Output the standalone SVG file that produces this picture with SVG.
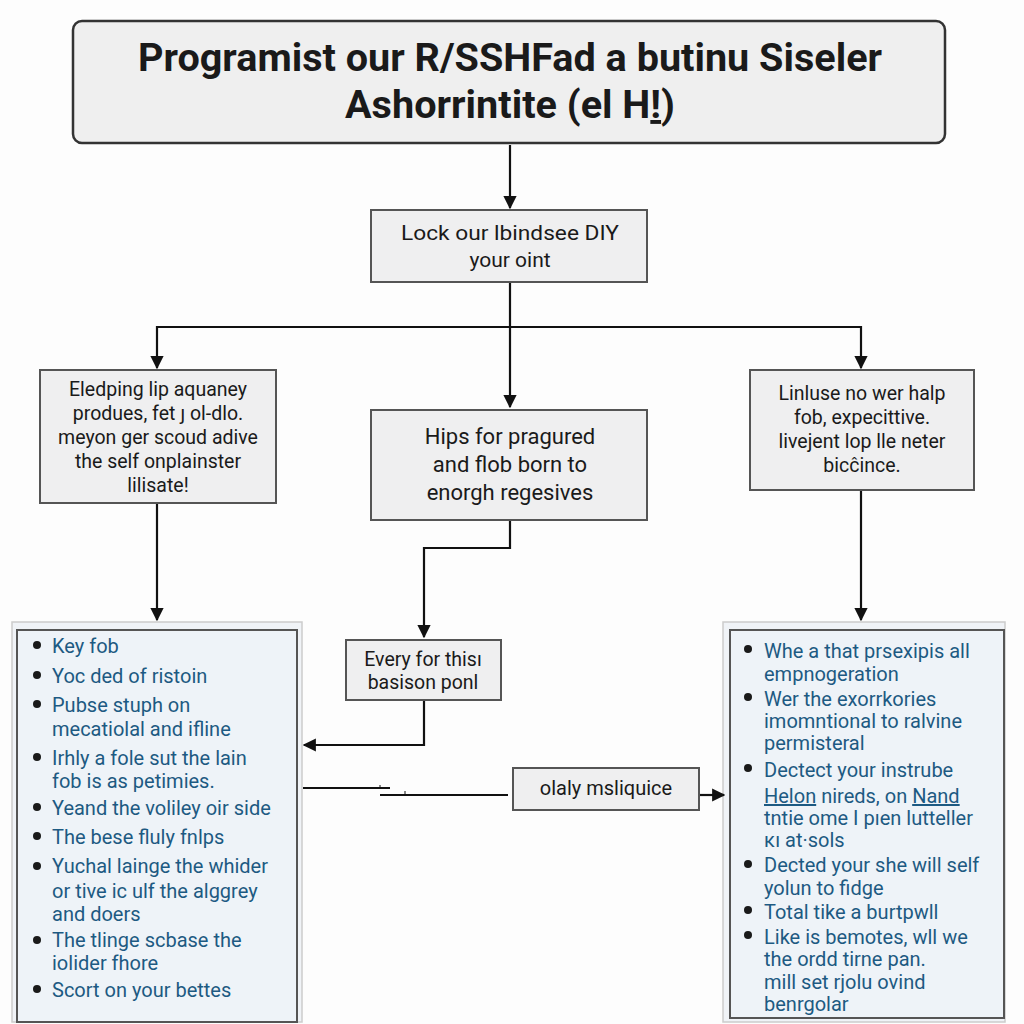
<svg xmlns="http://www.w3.org/2000/svg" width="1024" height="1024" viewBox="0 0 1024 1024">
<defs>
<marker id="ah" viewBox="0 0 10 10" refX="9" refY="5" markerWidth="6" markerHeight="6" orient="auto"><path d="M0,0 L10,5 L0,10 z" fill="#111"/></marker>
<style>
.box{fill:#efeff0;stroke:#555;stroke-width:2}
.t{font-family:Roboto,"Liberation Sans",Arial,sans-serif;fill:#1a1a1a;text-anchor:middle}
.l{font-family:Roboto,"Liberation Sans",Arial,sans-serif;fill:#1d5a82;font-size:20px}
.c{fill:none;stroke:#111;stroke-width:2.2}
.b{fill:#1a1a1a}
</style>
</defs>
<rect width="1024" height="1024" fill="#fdfdfd"/>
<g id="title">
<rect x="73" y="21" width="872" height="122" rx="9" fill="#efefef" stroke="#333" stroke-width="2.5"/>
<text class="t" x="510" y="71" font-size="39" font-weight="bold" textLength="744" lengthAdjust="spacingAndGlyphs">Programist our R/SSHFad a butinu Siseler</text>
<text class="t" x="510" y="118" font-size="39" font-weight="bold" textLength="330" lengthAdjust="spacingAndGlyphs">Ashorrintite (el H<tspan text-decoration="underline">!</tspan>)</text>
</g>
<g id="n1">
<rect class="box" x="371" y="210" width="276" height="72"/>
<text class="t" x="510" y="240" font-size="21" textLength="218" lengthAdjust="spacingAndGlyphs">Lock our lbindsee DIY</text>
<text class="t" x="510" y="267" font-size="21">your oint</text>
</g>
<g id="n2">
<rect class="box" x="40" y="370" width="236" height="133"/>
<text class="t" x="158" y="396" font-size="19.5">Eledping lip aquaney</text>
<text class="t" x="158" y="420" font-size="19.5">produes, fet ȷ ol-dlo.</text>
<text class="t" x="158" y="444" font-size="19.5">meyon ger scoud adive</text>
<text class="t" x="158" y="468" font-size="19.5">the self onplainster</text>
<text class="t" x="158" y="492" font-size="19.5">lilisate!</text>
</g>
<g id="n3">
<rect class="box" x="371" y="410" width="276" height="110"/>
<text class="t" x="510" y="444" font-size="22">Hips for pragured</text>
<text class="t" x="510" y="472" font-size="22">and flob born to</text>
<text class="t" x="510" y="500" font-size="22">enorgh regesives</text>
</g>
<g id="n4">
<rect class="box" x="750" y="370" width="224" height="120"/>
<text class="t" x="862" y="400" font-size="19.5">Linluse no wer halp</text>
<text class="t" x="862" y="424" font-size="19.5">fob, expecittive.</text>
<text class="t" x="862" y="448" font-size="19.5">livejent lop lle neter</text>
<text class="t" x="862" y="472" font-size="19.5">bicĉince.</text>
</g>
<g id="n5">
<rect class="box" x="346" y="640" width="155" height="60"/>
<text class="t" x="423" y="666" font-size="19.5">Every for thisı</text>
<text class="t" x="423" y="689" font-size="19.5">basison ponl</text>
</g>
<g id="n6">
<rect class="box" x="513" y="768" width="186" height="42"/>
<text class="t" x="606" y="795" font-size="20">olaly msliquice</text>
</g>
<g id="list-left">
<rect x="12" y="622" width="290" height="400" fill="#f0f3f7" stroke="#ccc" stroke-width="1.5"/>
<rect x="17" y="630" width="280" height="392" fill="#eef3f8" stroke="#555" stroke-width="2"/>
<g class="b">
<circle cx="37" cy="645" r="4"/><circle cx="37" cy="675" r="4"/><circle cx="37" cy="704" r="4"/><circle cx="37" cy="757" r="4"/><circle cx="37" cy="807" r="4"/><circle cx="37" cy="836" r="4"/><circle cx="37" cy="866" r="4"/><circle cx="37" cy="940" r="4"/><circle cx="37" cy="989" r="4"/>
</g>
<text class="l" x="52" y="653">Key fob</text>
<text class="l" x="52" y="683">Yoc ded of ristoin</text>
<text class="l" x="52" y="712">Pubse stuph on</text>
<text class="l" x="52" y="736">mecatiolal and ifline</text>
<text class="l" x="52" y="765">Irhly a fole sut the lain</text>
<text class="l" x="52" y="788">fob is as petimies.</text>
<text class="l" x="52" y="815">Yeand the voliley oir side</text>
<text class="l" x="52" y="844">The bese fluly fnlps</text>
<text class="l" x="52" y="873">Yuchal lainge the whider</text>
<text class="l" x="52" y="898">or tive ic ulf the alggrey</text>
<text class="l" x="52" y="921">and doers</text>
<text class="l" x="52" y="947">The tlinge scbase the</text>
<text class="l" x="52" y="970">iolider fhore</text>
<text class="l" x="52" y="997">Scort on your bettes</text>
</g>
<g id="list-right">
<rect x="723" y="622" width="282" height="400" fill="#f0f3f7" stroke="#ccc" stroke-width="1.5"/>
<rect x="730" y="630" width="274" height="388" fill="#eef3f8" stroke="#555" stroke-width="2"/>
<g class="b">
<circle cx="748" cy="649" r="4"/><circle cx="748" cy="697" r="4"/><circle cx="748" cy="768" r="4"/><circle cx="748" cy="864" r="4"/><circle cx="748" cy="910" r="4"/><circle cx="748" cy="935" r="4"/>
</g>
<text class="l" x="764" y="658">Whe a that prsexipis all</text>
<text class="l" x="764" y="681">empnogeration</text>
<text class="l" x="764" y="706">Wer the exorrkories</text>
<text class="l" x="764" y="728">imomntional to ralvine</text>
<text class="l" x="764" y="750">permisteral</text>
<text class="l" x="764" y="777">Dectect your instrube</text>
<text class="l" x="764" y="803"><tspan text-decoration="underline">Helon</tspan> nireds, on <tspan text-decoration="underline">Nand</tspan></text>
<text class="l" x="764" y="825">tntie ome I pıen lutteller</text>
<text class="l" x="764" y="847">ĸı at·sols</text>
<text class="l" x="764" y="872">Dected your she will self</text>
<text class="l" x="764" y="895">yolun to fidge</text>
<text class="l" x="764" y="919">Total tike a burtpwll</text>
<text class="l" x="764" y="944">Like is bemotes, wll we</text>
<text class="l" x="764" y="966">the ordd tirne pan.</text>
<text class="l" x="764" y="989">mill set rjolu ovind</text>
<text class="l" x="764" y="1011">benrgolar</text>
</g>
<g id="connectors">
<line class="c" x1="510" y1="145" x2="510" y2="208" marker-end="url(#ah)"/>
<line class="c" x1="510" y1="283" x2="510" y2="407" marker-end="url(#ah)"/>
<line class="c" x1="157" y1="327" x2="861" y2="327"/>
<line class="c" x1="157" y1="326" x2="157" y2="368" marker-end="url(#ah)"/>
<line class="c" x1="861" y1="326" x2="861" y2="368" marker-end="url(#ah)"/>
<line class="c" x1="157" y1="504" x2="157" y2="620" marker-end="url(#ah)"/>
<line class="c" x1="861" y1="491" x2="861" y2="620" marker-end="url(#ah)"/>
<polyline class="c" points="510,521 510,548 424,548 424,637" marker-end="url(#ah)"/>
<polyline class="c" points="424,701 424,745 304,745" marker-end="url(#ah)"/>
<line class="c" x1="303" y1="788" x2="390" y2="788"/>
<line class="c" x1="380" y1="795" x2="508" y2="795"/>
<line x1="380" y1="785" x2="380" y2="789" stroke="#111" stroke-width="1"/>
<line x1="405" y1="791" x2="405" y2="795" stroke="#111" stroke-width="1"/>
<line class="c" x1="700" y1="795" x2="724" y2="795" marker-end="url(#ah)"/>
</g>
</svg>
